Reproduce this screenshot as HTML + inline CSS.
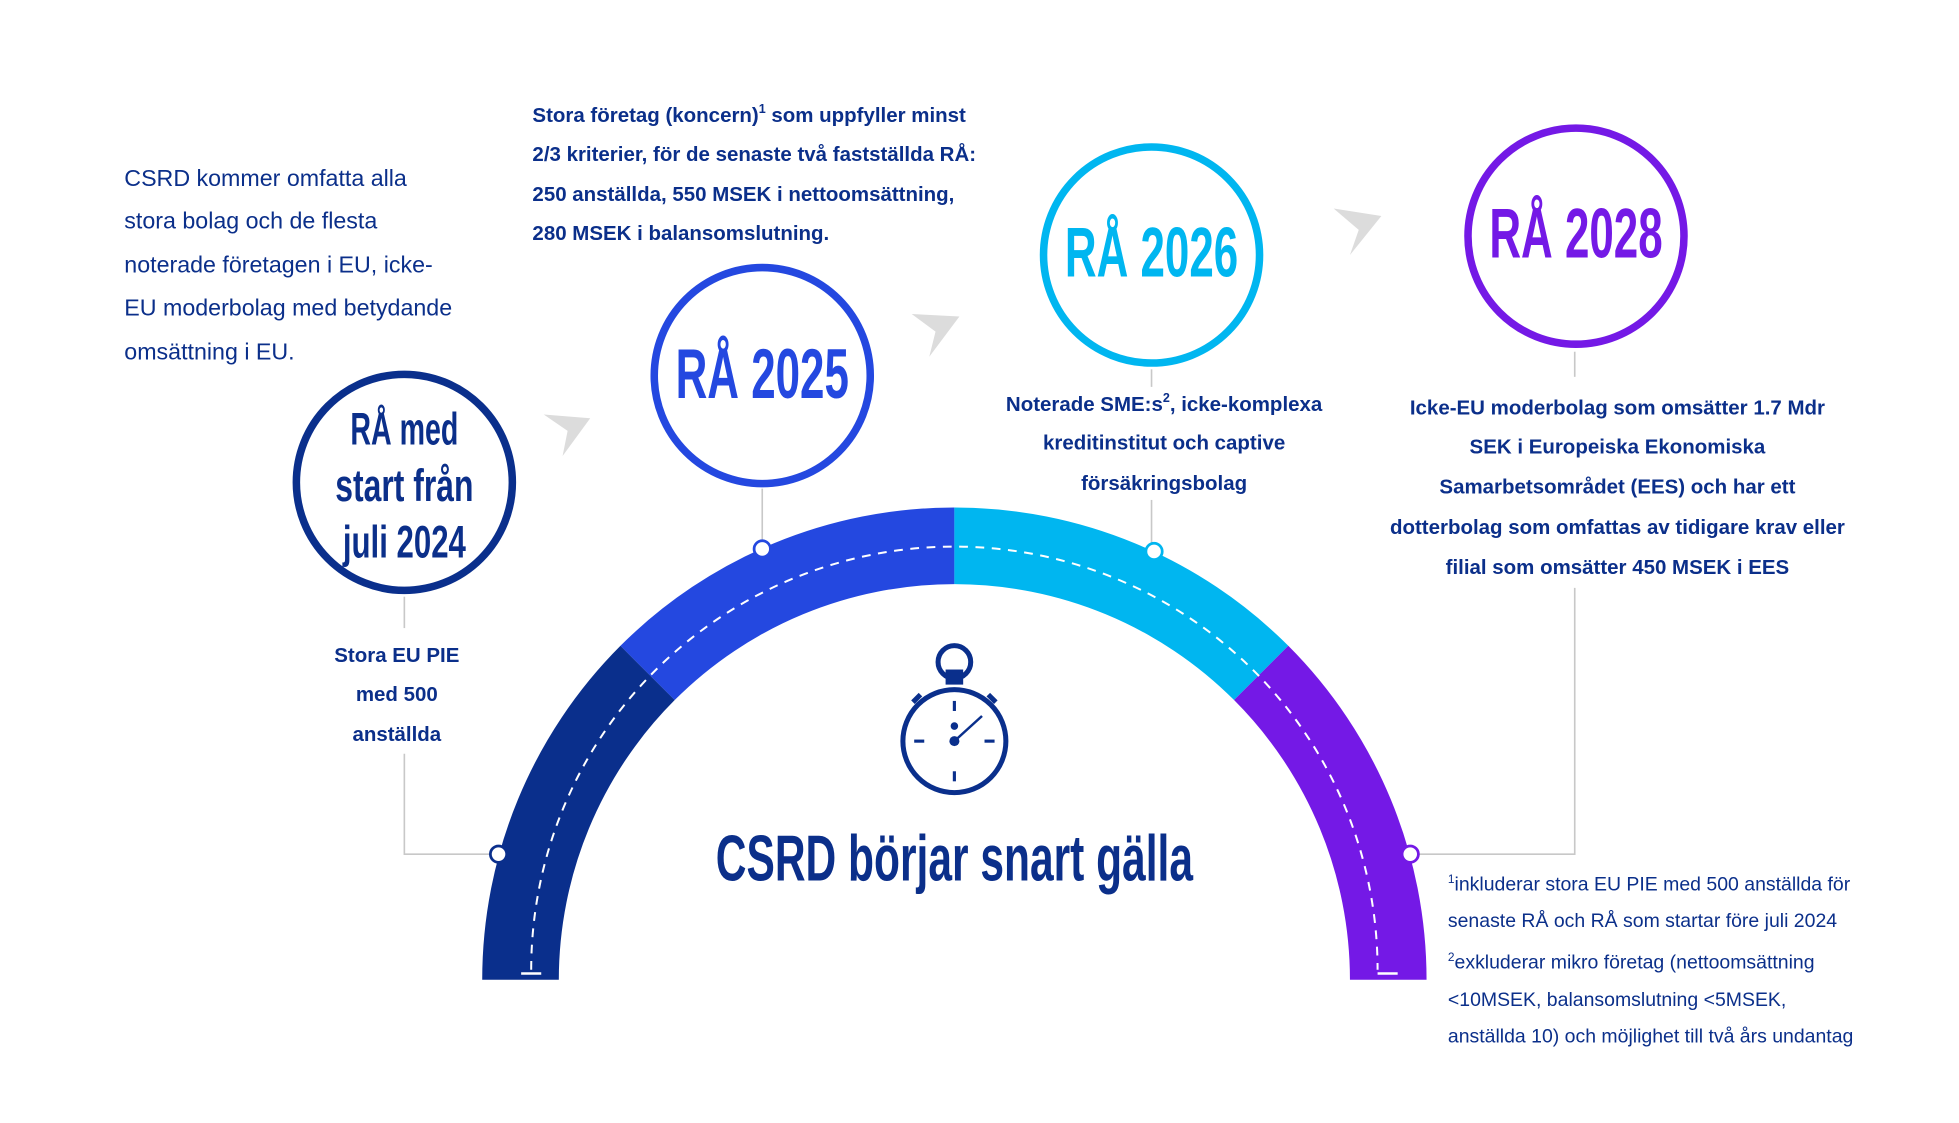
<!DOCTYPE html>
<html><head><meta charset="utf-8"><style>
html,body{margin:0;padding:0;background:#fff;}
svg{display:block;}
text{font-family:"Liberation Sans",sans-serif;fill:#0b2f8a;}
.b{font-weight:bold;}
.c{font-family:"Liberation Sans Narrow","Liberation Sans",sans-serif;font-weight:bold;}
</style></head><body>
<svg width="1959" height="1123" viewBox="0 0 1560 894" preserveAspectRatio="none" xmlns="http://www.w3.org/2000/svg">
<rect width="1560" height="894" fill="#fff"/>
<!-- arc segments: center 760,780 ; R 376 ; r 315 -->
<g>
<path d="M384,780 A376,376 0 0 1 494.1,514.1 L537.3,557.3 A315,315 0 0 0 445,780 Z" fill="#0a2f8c"/>
<path d="M494.1,514.1 A376,376 0 0 1 760,404 L760,465 A315,315 0 0 0 537.3,557.3 Z" fill="#2448e0"/>
<path d="M760,404 A376,376 0 0 1 1025.9,514.1 L982.7,557.3 A315,315 0 0 0 760,465 Z" fill="#00b6f0"/>
<path d="M1025.9,514.1 A376,376 0 0 1 1136,780 L1075,780 A315,315 0 0 0 982.7,557.3 Z" fill="#7419e6"/>
<path d="M423,772 A337,337 0 0 1 1097,772" fill="none" stroke="#fff" stroke-width="1.6" stroke-dasharray="7,6"/>
<line x1="415" y1="775" x2="431" y2="775" stroke="#fff" stroke-width="2"/>
<line x1="1097" y1="775" x2="1113" y2="775" stroke="#fff" stroke-width="2"/>
</g>
<!-- connectors -->
<g stroke="#c8c8c8" stroke-width="1.3" fill="none">
<line x1="607" y1="389" x2="607" y2="434"/>
<polyline points="322,475 322,500"/>
<polyline points="322,600 322,680 394,680"/>
<line x1="917" y1="294" x2="917" y2="308"/>
<line x1="917" y1="398" x2="917" y2="434"/>
<line x1="1254" y1="280" x2="1254" y2="300"/>
<polyline points="1254,468 1254,680 1126,680"/>
</g>
<g fill="#fff" stroke-width="2.2">
<circle cx="397" cy="680" r="6.5" stroke="#0a2f8c"/>
<circle cx="607" cy="437" r="6.5" stroke="#2448e0"/>
<circle cx="919" cy="439" r="6.5" stroke="#00b6f0"/>
<circle cx="1123" cy="680" r="6.5" stroke="#7419e6"/>
</g>
<!-- circles -->
<circle cx="322" cy="384" r="86" fill="none" stroke="#0a2f8c" stroke-width="6"/>
<circle cx="607" cy="299" r="86" fill="none" stroke="#2448e0" stroke-width="6"/>
<circle cx="917" cy="203" r="86" fill="none" stroke="#00b6f0" stroke-width="6"/>
<circle cx="1255" cy="188" r="86" fill="none" stroke="#7419e6" stroke-width="6"/>
<text class="c" x="322" y="354" font-size="36" text-anchor="middle" textLength="86" lengthAdjust="spacingAndGlyphs">RÅ med</text>
<text class="c" x="322" y="399" font-size="36" text-anchor="middle" textLength="110" lengthAdjust="spacingAndGlyphs">start från</text>
<text class="c" x="322" y="444" font-size="36" text-anchor="middle" textLength="98" lengthAdjust="spacingAndGlyphs">juli 2024</text>
<text class="c" x="607" y="317" font-size="56" text-anchor="middle" textLength="138" lengthAdjust="spacingAndGlyphs" style="fill:#2448e0">RÅ 2025</text>
<text class="c" x="917" y="220" font-size="56" text-anchor="middle" textLength="138" lengthAdjust="spacingAndGlyphs" style="fill:#00b6f0">RÅ 2026</text>
<text class="c" x="1255" y="205" font-size="56" text-anchor="middle" textLength="138" lengthAdjust="spacingAndGlyphs" style="fill:#7419e6">RÅ 2028</text>
<!-- arrows -->
<g fill="#dcdcdc">
<polygon points="433,330 470,333 448,363 452,343"/>
<polygon points="726,250 764,252 740,284 745,264"/>
<polygon points="1062,166 1100,172 1075,203 1082,183"/>
</g>
<!-- stopwatch -->
<g stroke="#0a2f8c" fill="none">
<circle cx="760" cy="590" r="41" stroke-width="4"/>
<circle cx="760" cy="527" r="13" stroke-width="4"/>
<rect x="753" y="533" width="14" height="12" fill="#0a2f8c" stroke="none"/>
<line x1="727" y1="559" x2="733" y2="553" stroke-width="4"/>
<line x1="793" y1="559" x2="787" y2="553" stroke-width="4"/>
<line x1="760" y1="590" x2="782" y2="570" stroke-width="2"/>
<line x1="760" y1="558" x2="760" y2="566" stroke-width="2.5"/>
<line x1="760" y1="614" x2="760" y2="622" stroke-width="2.5"/>
<line x1="728" y1="590" x2="736" y2="590" stroke-width="2.5"/>
<line x1="784" y1="590" x2="792" y2="590" stroke-width="2.5"/>
</g>
<circle cx="760" cy="590" r="4" fill="#0a2f8c"/>
<circle cx="760" cy="578" r="3" fill="#0a2f8c"/>
<text class="c" x="760" y="701" font-size="52" text-anchor="middle" textLength="380" lengthAdjust="spacingAndGlyphs">CSRD börjar snart gälla</text>
<!-- texts -->
<g font-size="18.5">
<text x="99" y="148">CSRD kommer omfatta alla</text>
<text x="99" y="182">stora bolag och de flesta</text>
<text x="99" y="217">noterade företagen i EU, icke-</text>
<text x="99" y="251">EU moderbolag med betydande</text>
<text x="99" y="286">omsättning i EU.</text>
</g>
<g class="b" font-size="16.3">
<text x="424" y="97">Stora företag (koncern)<tspan font-size="10" dy="-7">1</tspan><tspan dy="7"> som uppfyller minst</tspan></text>
<text x="424" y="128">2/3 kriterier, för de senaste två fastställda RÅ:</text>
<text x="424" y="160">250 anställda, 550 MSEK i nettoomsättning,</text>
<text x="424" y="191">280 MSEK i balansomslutning.</text>
</g>
<g class="b" font-size="16.3" text-anchor="middle">
<text x="316" y="527">Stora EU PIE</text>
<text x="316" y="558">med 500</text>
<text x="316" y="590">anställda</text>
<text x="927" y="327">Noterade SME:s<tspan font-size="10" dy="-7">2</tspan><tspan dy="7">, icke-komplexa</tspan></text>
<text x="927" y="358">kreditinstitut och captive</text>
<text x="927" y="390">försäkringsbolag</text>
<text x="1288" y="330">Icke-EU moderbolag som omsätter 1.7 Mdr</text>
<text x="1288" y="361">SEK i Europeiska Ekonomiska</text>
<text x="1288" y="393">Samarbetsområdet (EES) och har ett</text>
<text x="1288" y="425">dotterbolag som omfattas av tidigare krav eller</text>
<text x="1288" y="457">filial som omsätter 450 MSEK i EES</text>
</g>
<g font-size="15.5">
<text x="1153" y="709"><tspan font-size="9.5" dy="-6">1</tspan><tspan dy="6">inkluderar stora EU PIE med 500 anställda för</tspan></text>
<text x="1153" y="738">senaste RÅ och RÅ som startar före juli 2024</text>
<text x="1153" y="771"><tspan font-size="9.5" dy="-6">2</tspan><tspan dy="6">exkluderar mikro företag (nettoomsättning</tspan></text>
<text x="1153" y="801">&lt;10MSEK, balansomslutning &lt;5MSEK,</text>
<text x="1153" y="830">anställda 10) och möjlighet till två års undantag</text>
</g>
</svg>
</body></html>
